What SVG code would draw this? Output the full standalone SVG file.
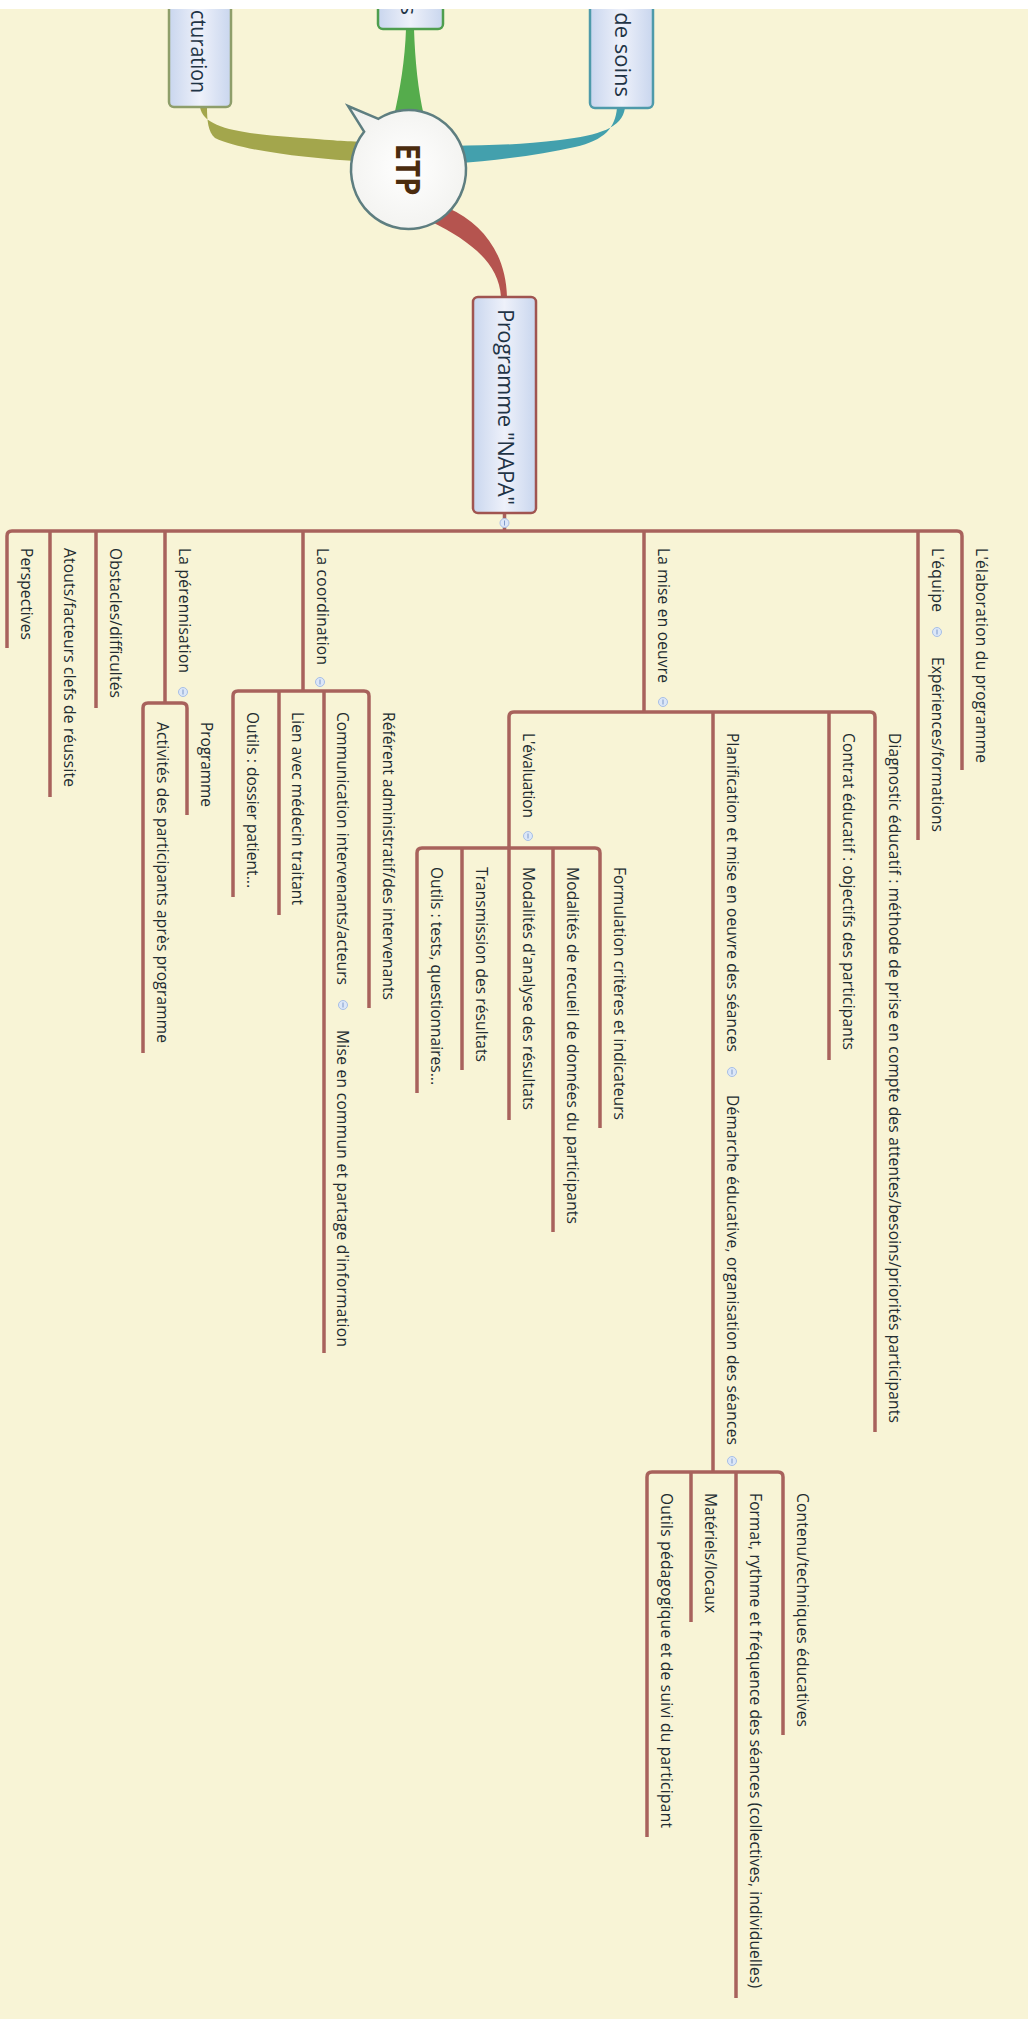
<svg xmlns="http://www.w3.org/2000/svg" width="1032" height="2022" viewBox="0 0 1032 2022">
<defs>
<linearGradient id="boxg" x1="0" y1="0" x2="1" y2="0">
<stop offset="0" stop-color="#C9D6EE"/>
<stop offset="0.5" stop-color="#EEF1FA"/>
<stop offset="1" stop-color="#C9D6EE"/>
</linearGradient>
<radialGradient id="etpg" cx="0.5" cy="0.5" r="0.6">
<stop offset="0" stop-color="#FFFFFF"/>
<stop offset="1" stop-color="#F1F1EE"/>
</radialGradient>
</defs>
<style>
.ln{fill:none;stroke:#A8625C;stroke-width:3.5}
.t{font-family:"Open Sans","Noto Sans","DejaVu Sans",sans-serif;font-size:15.5px;fill:#222C30}
.big{font-family:"Open Sans","Noto Sans","DejaVu Sans",sans-serif;font-size:22px;fill:#1F3446}
.box{fill:url(#boxg);stroke-width:2.5}
.cb{fill:#DCE7F8;stroke:#A7BFE6;stroke-width:1}
.cbm{stroke:#7F9ACB;stroke-width:1}
</style>
<rect x="0" y="0" width="1032" height="2022" fill="#F8F4D6"/>

<g id="connectors">
<path d="M200,107 C203,128 240,133 290,137 S340,141 368,142 L368,162 C300,158 240,150 215,138 C208,132 207,120 207,107 Z" fill="#A3A64C"/>
<path d="M406,29 L414,29 C415,60 418,90 424,116 L394,116 C400,90 405,60 406,29 Z" fill="#55AC4C"/>
<path d="M625,108 C622,128 600,135 560,140 C520,145 490,145 452,146 L452,164 C500,160 540,155 575,147 C605,140 615,128 617,108 Z" fill="#43A0AD"/>
<path d="M448,208 C484,224 506,255 507,297 L501,297 C499,262 468,240 432,222 Z" fill="#B5544F"/>
<line class="ln" x1="504.5" y1="513" x2="504.5" y2="531"/>
<path class="ln" d="M7,536 Q7,531 12,531 H957 Q962,531 962,536"/>
<line class="ln" x1="7" y1="536" x2="7" y2="648"/>
<line class="ln" x1="50" y1="531" x2="50" y2="797"/>
<line class="ln" x1="96" y1="531" x2="96" y2="708"/>
<line class="ln" x1="165" y1="531" x2="165" y2="703"/>
<line class="ln" x1="303" y1="531" x2="303" y2="691"/>
<line class="ln" x1="644" y1="531" x2="644" y2="712"/>
<line class="ln" x1="918" y1="531" x2="918" y2="840"/>
<line class="ln" x1="962" y1="536" x2="962" y2="770"/>
<path class="ln" d="M143,708 Q143,703 148,703 H182 Q187,703 187,708"/>
<line class="ln" x1="187" y1="708" x2="187" y2="815"/>
<line class="ln" x1="143" y1="708" x2="143" y2="1053"/>
<path class="ln" d="M233,696 Q233,691 238,691 H364 Q369,691 369,696"/>
<line class="ln" x1="369" y1="696" x2="369" y2="1008"/>
<line class="ln" x1="324" y1="691" x2="324" y2="1353"/>
<line class="ln" x1="279" y1="691" x2="279" y2="915"/>
<line class="ln" x1="233" y1="696" x2="233" y2="897"/>
<path class="ln" d="M509,717 Q509,712 514,712 H870 Q875,712 875,717"/>
<line class="ln" x1="875" y1="717" x2="875" y2="1432"/>
<line class="ln" x1="829" y1="712" x2="829" y2="1060"/>
<line class="ln" x1="713" y1="712" x2="713" y2="1472"/>
<line class="ln" x1="509" y1="717" x2="509" y2="848"/>
<path class="ln" d="M417,853 Q417,848 422,848 H595 Q600,848 600,853"/>
<line class="ln" x1="600" y1="853" x2="600" y2="1128"/>
<line class="ln" x1="553" y1="848" x2="553" y2="1232"/>
<line class="ln" x1="509" y1="848" x2="509" y2="1120"/>
<line class="ln" x1="462" y1="848" x2="462" y2="1070"/>
<line class="ln" x1="417" y1="853" x2="417" y2="1093"/>
<path class="ln" d="M647,1477 Q647,1472 652,1472 H778 Q783,1472 783,1477"/>
<line class="ln" x1="783" y1="1477" x2="783" y2="1735"/>
<line class="ln" x1="736" y1="1472" x2="736" y2="1998"/>
<line class="ln" x1="691" y1="1472" x2="691" y2="1622"/>
<line class="ln" x1="647" y1="1477" x2="647" y2="1837"/>
</g>

<g id="node-cturation">
<rect class="box" x="169" y="-20" width="62" height="127" rx="5" stroke="#8E9E6A"/>
<text class="big" text-anchor="end" transform="translate(191,93) rotate(90)" textLength="83" lengthAdjust="spacingAndGlyphs">cturation</text>
</g>
<g id="node-s">
<rect class="box" x="378" y="-20" width="65" height="49" rx="5" stroke="#4E9E4E"/>
<text class="big" text-anchor="end" transform="translate(401,15) rotate(90)">s</text>
</g>
<g id="node-soins">
<rect class="box" x="590" y="-20" width="63" height="128" rx="5" stroke="#4E9AAA"/>
<text class="big" text-anchor="end" transform="translate(614.5,97) rotate(90)">de soins</text>
</g>
<g id="node-etp">
<path d="M364.1,131.7 L348,106 L378.4,118.8 A57.5 59.5 0 1 1 364.1,131.7 Z" fill="url(#etpg)" stroke="#5E7E80" stroke-width="2.5"/>
<text transform="translate(396,169.5) rotate(90)" text-anchor="middle" font-family="'Open Sans','Noto Sans','DejaVu Sans',sans-serif" font-weight="bold" font-size="34" fill="#4B2C0E" textLength="52" lengthAdjust="spacingAndGlyphs">ETP</text>
</g>
<g id="node-napa">
<rect class="box" x="473" y="297" width="63" height="216" rx="5" stroke="#A05450"/>
<text class="big" transform="translate(498,309) rotate(90)" textLength="196">Programme "NAPA"</text>
<circle class="cb" cx="504.5" cy="523" r="4.5"/><line class="cbm" x1="504.5" y1="520.5" x2="504.5" y2="525.5"/>
</g>

<g id="n-perspectives"><text class="t" transform="translate(20.5,548) rotate(90)" textLength="92">Perspectives</text></g>
<g id="n-atouts"><text class="t" transform="translate(63.5,548) rotate(90)" textLength="239">Atouts/facteurs clefs de réussite</text></g>
<g id="n-obstacles"><text class="t" transform="translate(109.5,548) rotate(90)" textLength="150">Obstacles/difficultés</text></g>
<g id="n-perennisation"><text class="t" transform="translate(178.5,548) rotate(90)" textLength="125">La pérennisation</text>
<circle class="cb" cx="183" cy="692" r="4.5"/><line class="cbm" x1="183" y1="689.5" x2="183" y2="694.5"/></g>
<g id="n-programme"><text class="t" transform="translate(200.5,722) rotate(90)" textLength="85">Programme</text></g>
<g id="n-activites"><text class="t" transform="translate(156.5,722) rotate(90)" textLength="321">Activités des participants après programme</text></g>
<g id="n-coordination"><text class="t" transform="translate(316.5,548) rotate(90)" textLength="117">La coordination</text>
<circle class="cb" cx="320" cy="682" r="4.5"/><line class="cbm" x1="320" y1="679.5" x2="320" y2="684.5"/></g>
<g id="n-referent"><text class="t" transform="translate(382.5,712) rotate(90)" textLength="288">Référent administratif/des intervenants</text></g>
<g id="n-communication"><text class="t" transform="translate(337,712) rotate(90)" textLength="273">Communication intervenants/acteurs</text>
<circle class="cb" cx="343" cy="1005" r="4.5"/><line class="cbm" x1="343" y1="1002.5" x2="343" y2="1007.5"/></g>
<g id="n-misecommun"><text class="t" transform="translate(337,1030) rotate(90)" textLength="317">Mise en commun et partage d'information</text></g>
<g id="n-lien"><text class="t" transform="translate(292,712) rotate(90)" textLength="193">Lien avec médecin traitant</text></g>
<g id="n-outils-dossier"><text class="t" transform="translate(246.5,712) rotate(90)" textLength="176">Outils : dossier patient...</text></g>
<g id="n-miseenoeuvre"><text class="t" transform="translate(657.5,548) rotate(90)" textLength="135">La mise en oeuvre</text>
<circle class="cb" cx="663" cy="702" r="4.5"/><line class="cbm" x1="663" y1="699.5" x2="663" y2="704.5"/></g>
<g id="n-diagnostic"><text class="t" transform="translate(888.5,733) rotate(90)" textLength="690">Diagnostic éducatif : méthode de prise en compte des attentes/besoins/priorités participants</text></g>
<g id="n-contrat"><text class="t" transform="translate(842.5,733) rotate(90)" textLength="317">Contrat éducatif : objectifs des participants</text></g>
<g id="n-planification"><text class="t" transform="translate(726.5,733) rotate(90)" textLength="319">Planification et mise en oeuvre des séances</text>
<circle class="cb" cx="732" cy="1072" r="4.5"/><line class="cbm" x1="732" y1="1069.5" x2="732" y2="1074.5"/></g>
<g id="n-demarche"><text class="t" transform="translate(726.5,1095) rotate(90)" textLength="350">Démarche éducative, organisation des séances</text>
<circle class="cb" cx="732" cy="1461" r="4.5"/><line class="cbm" x1="732" y1="1458.5" x2="732" y2="1463.5"/></g>
<g id="n-contenu"><text class="t" transform="translate(796.5,1493) rotate(90)" textLength="234">Contenu/techniques éducatives</text></g>
<g id="n-format"><text class="t" transform="translate(749.5,1493) rotate(90)" textLength="495">Format, rythme et fréquence des séances (collectives, individuelles)</text></g>
<g id="n-materiels"><text class="t" transform="translate(704.5,1493) rotate(90)" textLength="120">Matériels/locaux</text></g>
<g id="n-outils-peda"><text class="t" transform="translate(660.5,1493) rotate(90)" textLength="335">Outils pédagogique et de suivi du participant</text></g>
<g id="n-evaluation"><text class="t" transform="translate(522.5,733) rotate(90)" textLength="85">L'évaluation</text>
<circle class="cb" cx="528" cy="836" r="4.5"/><line class="cbm" x1="528" y1="833.5" x2="528" y2="838.5"/></g>
<g id="n-formulation"><text class="t" transform="translate(613.5,867) rotate(90)" textLength="253">Formulation critères et indicateurs</text></g>
<g id="n-recueil"><text class="t" transform="translate(566.5,867) rotate(90)" textLength="357">Modalités de recueil de données du participants</text></g>
<g id="n-analyse"><text class="t" transform="translate(522.5,867) rotate(90)" textLength="243">Modalités d'analyse des résultats</text></g>
<g id="n-transmission"><text class="t" transform="translate(475.5,867) rotate(90)" textLength="195">Transmission des résultats</text></g>
<g id="n-outils-tests"><text class="t" transform="translate(430.5,867) rotate(90)" textLength="218">Outils : tests, questionnaires...</text></g>
<g id="n-equipe"><text class="t" transform="translate(931.5,548) rotate(90)" textLength="64">L'équipe</text>
<circle class="cb" cx="937" cy="632" r="4.5"/><line class="cbm" x1="937" y1="629.5" x2="937" y2="634.5"/></g>
<g id="n-experiences"><text class="t" transform="translate(931.5,657) rotate(90)" textLength="175">Expériences/formations</text></g>
<g id="n-elaboration"><text class="t" transform="translate(975.5,548) rotate(90)" textLength="215">L'élaboration du programme</text></g>

<rect x="0" y="0" width="1032" height="9" fill="#FFFFFF"/>
<rect x="1028" y="0" width="4" height="2022" fill="#FFFFFF"/>
<rect x="0" y="2019" width="1032" height="3" fill="#FFFFFF"/>
</svg>
